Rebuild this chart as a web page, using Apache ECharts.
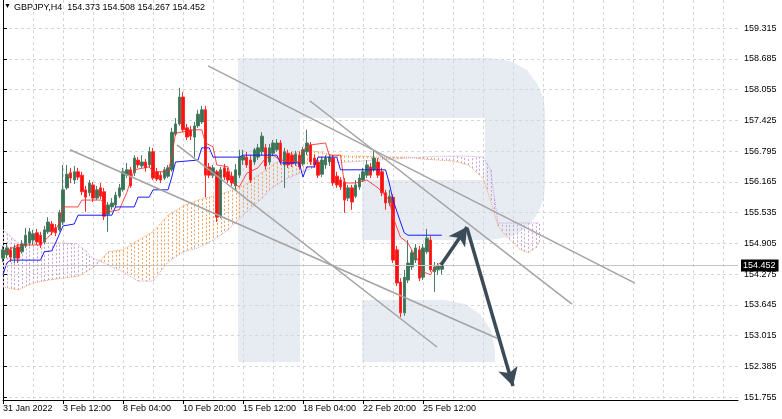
<!DOCTYPE html>
<html><head><meta charset="utf-8">
<script src="https://cdn.jsdelivr.net/npm/echarts@6/dist/echarts.min.js"></script>
<style>html,body{margin:0;padding:0;background:#fff}#c{width:782px;height:419px}</style>
</head><body><div id="c"></div><script>
// ---------- data ----------
const headerText = 'GBPJPY,H4  154.373 154.508 154.267 154.452';
const xTickLabels = ['31 Jan 2022','3 Feb 12:00','8 Feb 04:00','10 Feb 20:00','15 Feb 12:00','18 Feb 04:00','22 Feb 20:00','25 Feb 12:00'];
const xTickEvery = 16;
const slotCount = 197;
const yTickValues = [151.755,152.385,153.015,153.645,154.275,154.905,155.535,156.165,156.795,157.425,158.055,158.685,159.315];
const yMin = 151.694, yMax = 159.889;
const lastPrice = 154.452;
// [open, close, low, high]
const ohlc = [
[154.60,154.77,154.52,154.85],[154.67,154.81,154.60,154.89],[154.77,154.62,154.52,154.83],[154.60,154.81,154.50,154.87],
[154.83,154.60,154.50,154.89],[154.73,154.89,154.69,154.97],[154.85,155.07,154.81,155.22],[154.91,155.14,154.85,155.22],
[154.97,155.10,154.87,155.18],[155.12,154.93,154.87,155.20],[155.07,154.87,154.81,155.14],[154.93,155.18,154.89,155.26],
[155.14,155.34,155.10,155.44],[155.30,155.14,155.07,155.36],[155.22,155.12,155.05,155.30],[155.18,155.53,155.14,155.59],
[155.34,156.00,155.28,156.51],[156.04,156.32,156.00,156.51],[156.35,156.24,156.14,156.45],[156.20,156.37,156.12,156.49],
[156.37,156.26,156.20,156.45],[156.30,155.96,155.89,156.37],[156.00,155.85,155.55,156.08],[155.94,156.14,155.87,156.20],
[156.10,155.83,155.75,156.16],[155.83,156.00,155.79,156.08],[156.04,155.87,155.81,156.14],[155.96,155.46,155.38,156.04],
[155.50,155.69,155.14,155.75],[155.65,155.73,155.59,155.83],[155.69,155.89,155.63,155.96],[155.87,156.04,155.83,156.12],
[156.00,156.37,155.96,156.45],[156.30,156.41,156.24,156.55],[156.41,156.08,156.04,156.47],[156.35,156.65,156.28,156.71],
[156.61,156.51,156.45,156.67],[156.49,156.57,156.45,156.71],[156.57,156.45,156.37,156.63],[156.51,156.78,156.45,156.88],
[156.78,156.24,156.20,156.86],[156.37,156.22,156.18,156.45],[156.30,156.20,156.14,156.37],[156.24,156.41,156.20,156.47],
[156.28,156.45,156.24,156.51],[156.41,157.18,156.37,157.27],[157.14,157.35,157.10,157.47],[157.35,157.90,157.31,158.09],
[157.90,157.23,157.18,158.00],[157.27,157.08,157.02,157.35],[157.23,157.10,157.02,157.31],[157.08,157.31,156.67,157.39],
[157.31,157.55,157.27,157.64],[157.39,157.64,157.35,157.72],[157.64,156.30,155.85,157.72],[156.47,156.30,156.24,156.55],
[156.30,156.45,156.24,156.51],[156.37,155.44,155.34,156.41],[155.46,156.41,155.42,156.47],[156.45,156.26,156.20,156.53],
[156.37,156.20,156.14,156.45],[156.28,156.14,156.08,156.37],[156.08,156.41,156.00,156.53],[156.30,156.67,156.24,156.82],
[156.61,156.69,156.51,156.82],[156.67,156.51,156.45,156.78],[156.61,156.20,156.14,156.71],[156.57,156.82,156.51,156.86],
[156.67,156.86,156.61,156.94],[156.78,157.10,156.71,157.18],[156.86,156.49,156.41,156.94],[156.57,156.86,156.51,156.94],
[156.75,156.96,156.69,157.02],[156.82,156.96,156.78,157.04],[156.96,156.57,156.51,157.02],[156.51,156.78,156.04,156.86],
[156.75,156.51,156.45,156.82],[156.71,156.53,156.47,156.78],[156.55,156.73,156.49,156.80],[156.71,156.47,156.41,156.78],
[156.53,156.82,156.49,156.88],[156.78,156.96,156.71,157.23],[156.92,156.57,156.51,156.98],[156.65,156.51,156.45,156.73],
[156.57,156.30,156.24,156.65],[156.32,156.61,156.26,156.67],[156.51,156.65,156.43,156.71],[156.57,156.67,156.49,156.73],
[156.65,156.14,156.08,156.71],[156.28,156.10,156.04,156.37],[156.20,156.06,156.00,156.26],[156.16,155.79,155.53,156.24],
[155.83,156.04,155.77,156.10],[156.04,155.75,155.59,156.10],[155.87,156.10,155.83,156.20],[156.06,156.24,156.00,156.32],
[156.20,156.37,156.16,156.45],[156.30,156.51,156.24,156.61],[156.47,156.30,156.24,156.55],[156.41,156.65,156.37,156.82],
[156.57,156.30,156.24,156.65],[156.37,155.94,155.87,156.45],[155.94,155.73,155.59,156.00],[155.73,155.87,155.67,156.00],
[155.85,154.56,154.50,155.91],[154.77,154.09,154.03,154.85],[154.11,153.48,153.39,154.19],[153.48,154.21,153.42,154.36],
[154.15,154.50,154.09,154.97],[154.42,154.71,154.36,154.77],[154.56,154.81,154.50,154.89],[154.77,154.19,154.13,154.85],
[154.21,154.81,154.15,154.89],[154.73,155.01,154.69,155.20],[154.97,154.36,154.32,155.05],[154.32,154.42,153.91,154.52],
[154.36,154.44,154.26,154.50],[154.373,154.452,154.267,154.508]
];
// Tenkan-sen [bar, price]
const tenkan = [[0,154.71],[4,154.87],[10,154.87],[12,155.03],[14,155.18],[15,155.32],[16,155.65],[20,155.65],[21,155.79],[26,155.79],[27,155.73],[28,155.55],[31,155.59],[33,155.94],[35,156.41],[39,156.47],[40,156.37],[44,156.37],[45,156.67],[46,157.16],[51,157.23],[53,157.23],[54,156.96],[56,156.88],[57,156.51],[60,156.47],[61,156.16],[63,156.06],[65,156.34],[68,156.45],[70,156.65],[72,156.71],[74,156.61],[79,156.57],[80,156.82],[82,156.92],[86,156.96],[87,156.71],[90,156.71],[91,156.14],[94,156.14],[97,156.20],[100,156.04],[103,155.79],[104,155.44],[106,155.03],[108,154.91],[109,154.77],[111,154.52],[112,154.32],[114,154.26],[115,154.42],[117,154.52]];
// Kijun-sen [bar, price]
const kijun = [[0,154.26],[1,154.50],[2,154.56],[10,154.56],[11,154.73],[13,154.75],[14,154.91],[16,155.26],[19,155.30],[20,155.48],[29,155.48],[30,155.65],[35,155.65],[36,155.85],[39,155.85],[40,156.00],[44,156.00],[45,156.26],[46,156.57],[52,156.61],[53,156.86],[55,156.86],[56,156.67],[63,156.67],[64,156.71],[73,156.71],[74,156.55],[79,156.55],[80,156.26],[81,156.47],[83,156.47],[84,156.67],[89,156.67],[90,156.41],[102,156.41],[103,156.14],[104,155.79],[106,155.34],[107,155.12],[108,155.07],[117,155.07]];
// Senkou spans (shifted forward)
const cloudBars = [0,4,8,12,16,20,24,28,32,36,40,44,48,52,56,60,64,68,72,76,80,84,88,92,96,100,104,108,112,116,120,124,128,130,132,134,136,138,140,142,143];
const spanA = [154.01,153.95,154.09,154.15,154.19,154.23,154.40,154.73,154.77,154.97,155.14,155.48,155.67,155.79,155.87,155.96,156.08,156.30,156.51,156.71,156.82,156.78,156.71,156.69,156.69,156.67,156.67,156.67,156.63,156.61,156.59,156.51,156.24,155.79,155.26,155.07,154.91,154.77,154.71,154.81,154.93];
const spanB = [155.18,154.91,154.91,154.91,154.91,154.89,154.60,154.46,154.32,154.13,154.13,154.52,154.73,154.81,154.97,155.18,155.48,155.75,156.06,156.24,156.37,156.49,156.55,156.57,156.59,156.61,156.63,156.65,156.67,156.69,156.69,156.69,156.67,156.41,155.32,155.32,155.32,155.32,155.32,155.32,155.32];
// trend lines and arrows [[bar, price],[bar, price]]
const trendLines = [
  [[54.67,158.54],[168.53,154.09]],
  [[81.87,157.82],[151.73,153.66]],
  [[17.87,156.82],[131.73,152.96]],
  [[46.4,156.92],[115.73,152.78]]
];
const arrows = [
  [[116.8,154.46],[123.73,155.24]],
  [[123.73,155.22],[136.0,151.98]]
];
// ---------- chart ----------
const categories = Array.from({length: slotCount}, (_, i) => String(i));
const COL_A = '#f4a460', COL_B = '#c9a2d6';
const segs = [];
for (let k = 0; k < cloudBars.length - 1; k++) {
  segs.push([cloudBars[k], spanA[k], spanB[k], cloudBars[k+1], spanA[k+1], spanB[k+1], k === cloudBars.length - 2 ? 1 : 0]);
}
const isTick = (i) => i % xTickEvery === 0 && i / xTickEvery < xTickLabels.length;
const FONT = 'Liberation Sans';
const WM = '#e7ecf3';
const chart = echarts.init(document.getElementById('c'), null, {renderer: 'canvas'});
const lineSeries = (data, color, z, type, width, opacity) => ({
  type: 'line', xAxisIndex: 1, data, showSymbol: false, symbol: 'none', z, silent: true,
  lineStyle: {color, width: width || 1, type: type || 'solid', opacity: opacity == null ? 1 : opacity}
});
chart.setOption({
  animation: false,
  textStyle: {fontFamily: FONT},
  grid: {left: 3, right: 44, top: 0, bottom: 19, containLabel: false},
  graphic: [
    {type: 'group', z: -5, silent: true, children: [
      {type: 'rect', shape: {x: 238, y: 58, width: 62, height: 304}, style: {fill: WM}},
      {type: 'polygon', shape: {points: [[300,58],[490,58],[510,61],[527,70],[538,85],[544,100],[545,113],[545,185],[544,198],[538,213],[527,228],[510,237],[490,240],[362,240],[362,180],[485,180],[485,118],[300,118]]}, style: {fill: WM}},
      {type: 'polygon', shape: {points: [[362,300],[445,300],[465,304],[480,314],[491,330],[495,350],[495,362],[362,362]]}, style: {fill: WM}}
    ]},
    {type: 'text', left: 4, top: 3, z: 20, style: {text: '▼', fontSize: 7, fill: '#000', fontFamily: FONT}},
    {type: 'text', left: 14, top: 3, z: 20, style: {text: headerText, fontSize: 9, fill: '#000', fontFamily: FONT}}
  ],
  xAxis: [
    {type: 'category', data: categories, boundaryGap: false,
     axisLine: {show: true, onZero: false, lineStyle: {color: '#000'}},
     axisTick: {show: true, interval: (i) => isTick(i), length: 4, lineStyle: {color: '#000'}},
     axisLabel: {interval: (i) => isTick(i), formatter: (v, i) => isTick(i) ? xTickLabels[i / xTickEvery] : '',
       align: 'left', fontSize: 9, color: '#000', margin: 4, fontFamily: FONT},
     splitLine: {show: true, interval: (i) => i % 8 === 0, lineStyle: {color: '#d6d6d6', type: [3, 3]}}},
    {type: 'value', min: 0, max: slotCount - 1, show: false}
  ],
  yAxis: [
    {type: 'value', position: 'right', min: yMin, max: yMax,
     axisLine: {show: true, lineStyle: {color: '#000'}},
     axisTick: {show: true, customValues: yTickValues, length: 4, lineStyle: {color: '#000'}},
     axisLabel: {customValues: yTickValues, formatter: (v) => v.toFixed(3), fontSize: 9, color: '#000', margin: 6, fontFamily: FONT},
     splitLine: {show: true, lineStyle: {color: '#d6d6d6', type: [3, 3]}}},
    {type: 'value', position: 'left', min: yMin, max: yMax,
     axisLine: {show: true, onZero: false, lineStyle: {color: '#000'}},
     axisTick: {show: false}, axisLabel: {show: false}, splitLine: {show: false}}
  ],
  series: [
    {type: 'custom', xAxisIndex: 1, yAxisIndex: 0, z: 1, silent: true, data: segs,
     encode: {x: [0, 3], y: [1, 2, 4, 5]},
     renderItem: (params, api) => {
       const x0 = api.value(0), a0 = api.value(1), b0 = api.value(2);
       const x1 = api.value(3), a1 = api.value(4), b1 = api.value(5);
       const last = api.value(6) === 1;
       const children = [];
       const end = last ? x1 : x1 - 1;
       for (let j = x0; j <= end; j++) {
         const t = (j - x0) / (x1 - x0);
         const a = a0 + (a1 - a0) * t, b = b0 + (b1 - b0) * t;
         const p1 = api.coord([j, a]), p2 = api.coord([j, b]);
         const x = Math.round(p1[0]) + 0.5;
         children.push({type: 'line', shape: {x1: x, y1: p1[1], x2: x, y2: p2[1]},
           style: {stroke: a >= b ? COL_A : COL_B, lineWidth: 1, lineDash: [2, 2]}});
       }
       return {type: 'group', children};
     }},
    lineSeries(cloudBars.map((b, k) => [b, spanA[k]]), COL_A, 2, 'dotted', 1),
    lineSeries(cloudBars.map((b, k) => [b, spanB[k]]), COL_B, 2, 'dotted', 1),
    {type: 'candlestick', xAxisIndex: 0, yAxisIndex: 0, data: ohlc, barWidth: 3, z: 3, clip: false, silent: true,
     itemStyle: {color: '#367553', color0: '#ff1010', borderColor: '#4a7d63', borderColor0: '#ff2a2a', borderWidth: 1},
     markLine: {silent: true, symbol: ['none', 'none'], data: [{yAxis: lastPrice}],
       lineStyle: {color: '#c4c4c4', type: 'solid', width: 1},
       label: {show: true, position: 'end', formatter: lastPrice.toFixed(3), color: '#fff', backgroundColor: '#000',
         padding: [2, 3, 1, 2], fontSize: 9, distance: 3, fontFamily: FONT}}},
    lineSeries(tenkan, '#ff2a2a', 4, 'solid', 1, 0.85),
    lineSeries(kijun, '#1a1aff', 4, 'solid', 1, 1),
    ...trendLines.map(t => lineSeries(t, '#a3a3a3', 5, 'solid', 1.5, 1)),
    {type: 'line', xAxisIndex: 1, data: [], z: 6, silent: true,
     markLine: {silent: true, symbol: ['none', 'arrow'], symbolSize: [15, 18], animation: false,
       lineStyle: {color: '#3b4b57', width: 3.5, type: 'solid'}, label: {show: false},
       data: arrows.map(a => [{coord: a[0]}, {coord: a[1]}])}}
  ]
});
</script></body></html>
